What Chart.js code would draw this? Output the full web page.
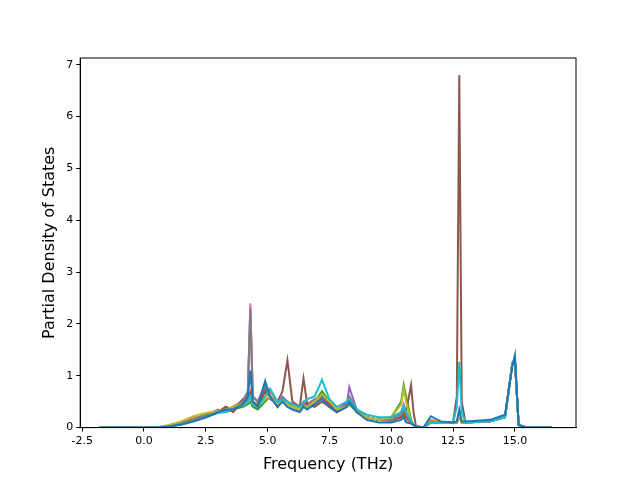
<!DOCTYPE html>
<html lang="en">
<head>
<meta charset="UTF-8">
<title>Partial Density of States</title>
<script src="https://cdn.jsdelivr.net/npm/chart.js"></script>
<style>
  body { margin: 0; background: #fff; }
  #wrap { width: 640px; height: 480px; }
</style>
</head>
<body>
<div id="wrap"><canvas id="chart"></canvas></div>
<script>
const freqs = [-1.8, 0, 0.5, 1, 1.5, 2, 2.5, 3, 3.3, 3.6, 4.0, 4.2, 4.3, 4.4, 4.6, 4.9, 5.1, 5.4, 5.6, 5.8, 6.0, 6.3, 6.45, 6.6, 6.9, 7.2, 7.5, 7.8, 8.2, 8.3, 8.6, 9.0, 9.5, 10.0, 10.4, 10.5, 10.6, 10.8, 10.9, 11.0, 11.3, 11.6, 12.0, 12.5, 12.65, 12.75, 12.85, 13.0, 14.0, 14.6, 14.9, 15.0, 15.15, 15.5, 16.5];

const pdosBlue   = [0,0,0,0.02,0.06,0.12,0.2,0.3,0.35,0.35,0.45,0.6,1.1,0.5,0.4,0.9,0.6,0.4,0.5,0.4,0.35,0.3,0.4,0.35,0.45,0.55,0.4,0.3,0.4,0.5,0.3,0.15,0.1,0.1,0.15,0.2,0.1,0.08,0.05,0.02,0,0.22,0.12,0.1,0.12,0.35,0.12,0.12,0.15,0.25,1.2,1.4,0.05,0,0];
const pdosOrange = [0,0,0,0.03,0.1,0.18,0.25,0.3,0.35,0.4,0.45,0.55,0.7,0.5,0.45,0.6,0.7,0.5,0.55,0.5,0.45,0.4,0.45,0.4,0.5,0.6,0.5,0.35,0.45,0.5,0.35,0.2,0.15,0.12,0.2,0.25,0.15,0.1,0.05,0.02,0,0.15,0.1,0.1,0.1,0.2,0.1,0.1,0.12,0.2,1.25,1.3,0.05,0,0];
const pdosGreen  = [0,0,0,0.02,0.08,0.15,0.22,0.3,0.3,0.35,0.4,0.45,0.5,0.4,0.35,0.5,0.6,0.45,0.5,0.45,0.4,0.35,0.4,0.45,0.5,0.7,0.5,0.35,0.4,0.45,0.3,0.2,0.15,0.2,0.5,0.82,0.6,0.15,0.05,0.02,0,0.1,0.1,0.1,0.1,0.25,0.1,0.1,0.12,0.2,1.25,1.3,0.05,0,0];
const pdosRed    = [0,0,0,0.02,0.07,0.15,0.22,0.3,0.4,0.3,0.5,0.55,0.65,0.45,0.4,0.7,0.6,0.4,0.55,0.5,0.4,0.35,0.45,0.4,0.45,0.6,0.45,0.3,0.5,0.55,0.3,0.2,0.15,0.15,0.2,0.3,0.2,0.1,0.05,0.02,0,0.1,0.1,0.1,0.1,0.25,0.1,0.1,0.12,0.2,1.25,1.3,0.05,0,0];
const pdosPurple = [0,0,0,0.03,0.08,0.15,0.25,0.35,0.3,0.4,0.5,0.7,2.35,0.6,0.5,0.8,0.55,0.45,0.6,0.5,0.4,0.35,0.5,0.45,0.55,0.6,0.5,0.35,0.45,0.78,0.35,0.2,0.15,0.15,0.3,0.45,0.3,0.1,0.05,0.02,0,0.1,0.1,0.1,0.1,0.25,0.1,0.1,0.12,0.2,1.25,1.3,0.05,0,0];
const pdosBrown  = [0,0,0,0.02,0.06,0.12,0.2,0.3,0.4,0.35,0.55,0.6,0.65,0.5,0.4,0.75,0.6,0.5,0.7,1.3,0.5,0.4,0.95,0.45,0.4,0.5,0.4,0.3,0.4,0.55,0.3,0.2,0.15,0.15,0.2,0.25,0.3,0.82,0.3,0.02,0,0.1,0.1,0.1,0.6,6.8,0.5,0.1,0.12,0.2,1.25,1.3,0.05,0,0];
const pdosPink   = [0,0,0,0.03,0.08,0.16,0.25,0.33,0.3,0.4,0.5,0.7,2.4,0.6,0.5,0.85,0.6,0.45,0.55,0.5,0.4,0.35,0.45,0.4,0.5,0.6,0.5,0.35,0.4,0.6,0.35,0.2,0.15,0.15,0.25,0.4,0.25,0.1,0.05,0.02,0,0.1,0.1,0.1,0.1,0.25,0.1,0.1,0.12,0.2,1.25,1.3,0.05,0,0];
const pdosGray   = [0,0,0,0.03,0.08,0.16,0.25,0.33,0.3,0.4,0.5,0.7,2.3,0.6,0.5,0.8,0.6,0.45,0.55,0.5,0.4,0.35,0.45,0.4,0.5,0.6,0.5,0.35,0.4,0.6,0.35,0.2,0.15,0.15,0.25,0.35,0.25,0.1,0.05,0.02,0,0.1,0.1,0.1,0.1,0.25,0.1,0.1,0.12,0.2,1.25,1.3,0.05,0,0];
const pdosOlive  = [0,0,0,0.05,0.12,0.22,0.28,0.32,0.35,0.4,0.45,0.5,0.6,0.45,0.4,0.55,0.6,0.45,0.5,0.45,0.4,0.35,0.4,0.4,0.5,0.65,0.5,0.35,0.4,0.5,0.3,0.2,0.15,0.2,0.45,0.75,0.5,0.12,0.05,0.02,0,0.1,0.1,0.1,0.1,0.25,0.1,0.1,0.12,0.2,1.25,1.3,0.05,0,0];
const pdosCyan   = [0,0,0,0.02,0.06,0.12,0.2,0.28,0.3,0.35,0.45,0.5,0.6,0.45,0.4,0.6,0.75,0.5,0.55,0.5,0.45,0.4,0.5,0.55,0.6,0.92,0.55,0.4,0.5,0.55,0.35,0.25,0.2,0.2,0.3,0.4,0.3,0.12,0.05,0.02,0,0.1,0.1,0.1,0.4,1.27,0.3,0.1,0.12,0.2,1.25,1.3,0.05,0,0];

const seriesList = [pdosBlue, pdosOrange, pdosGreen, pdosRed, pdosPurple, pdosBrown, pdosPink, pdosGray, pdosOlive, pdosCyan];
const colours = ['#1f77b4','#ff7f0e','#2ca02c','#d62728','#9467bd','#8c564b','#e377c2','#7f7f7f','#bcbd22','#17becf'];
const xTicks = [-2.5, 0, 2.5, 5, 7.5, 10, 12.5, 15];
const yTicks = [0, 1, 2, 3, 4, 5, 6, 7];

// blue drawn last (on top) in the picture
const datasets = seriesList.map((ys, i) => ({
    data: ys.map((y, j) => ({ x: freqs[j], y: y })),
    borderColor: colours[i],
    borderWidth: 2,
    pointRadius: 0,
    fill: false,
    tension: 0,
    order: i === 0 ? 0 : 10 - i
}));

const axisGrid = { display: true, drawOnChartArea: false, drawTicks: true, tickLength: 4, tickColor: '#000' };

new Chart(document.getElementById('chart'), {
    type: 'line',
    data: { datasets: datasets },
    options: {
        responsive: true,
        maintainAspectRatio: false,
        animation: false,
        layout: { padding: { top: 58, right: 64, left: 36, bottom: 2 } },
        plugins: { legend: { display: false }, tooltip: { enabled: false } },
        scales: {
            x: {
                type: 'linear', min: -2.58, max: 17.47,
                afterBuildTicks: axis => { axis.ticks = xTicks.map(v => ({ value: v })); },
                ticks: { color: '#000', font: { size: 11, family: 'DejaVu Sans' }, callback: v => v.toFixed(1) },
                grid: axisGrid,
                border: { color: '#000' },
                title: { display: true, text: 'Frequency (THz)', color: '#000', font: { size: 16, family: 'DejaVu Sans' } }
            },
            y: {
                type: 'linear', min: 0, max: 7.13,
                afterBuildTicks: axis => { axis.ticks = yTicks.map(v => ({ value: v })); },
                ticks: { color: '#000', font: { size: 11, family: 'DejaVu Sans' } },
                grid: axisGrid,
                border: { color: '#000' },
                title: { display: true, text: 'Partial Density of States', color: '#000', font: { size: 16, family: 'DejaVu Sans' } }
            }
        }
    },
    plugins: [{
        id: 'frame',
        afterDraw(c) {
            const a = c.chartArea, ctx = c.ctx;
            ctx.save();
            ctx.strokeStyle = '#000';
            ctx.lineWidth = 1;
            ctx.strokeRect(a.left, a.top, a.right - a.left, a.bottom - a.top);
            ctx.restore();
        }
    }]
});
</script>
</body>
</html>
